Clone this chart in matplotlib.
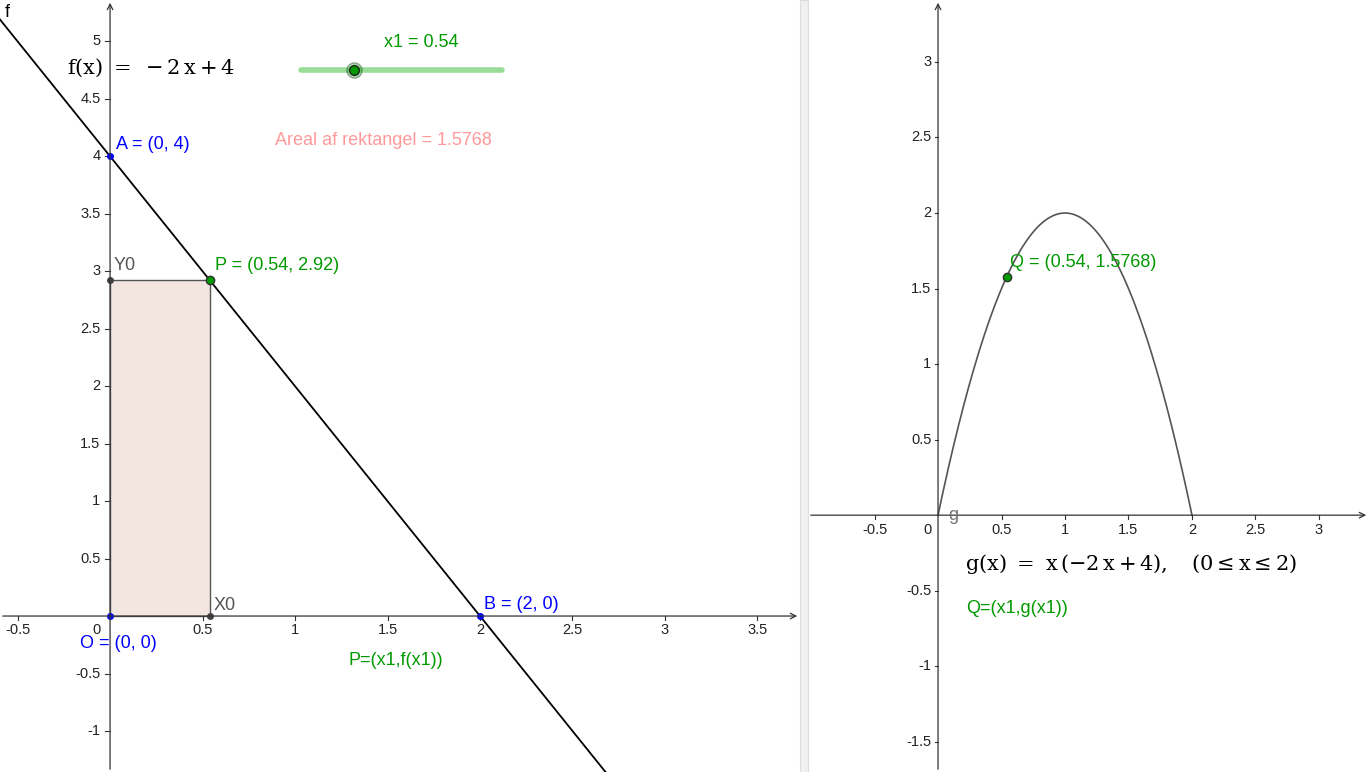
import numpy as np
import matplotlib
matplotlib.use("Agg")
import matplotlib.pyplot as plt

# data
x1 = 0.54
f_slope, f_icpt = -2, 4
A = (0, 4)
B = (2, 0)
O = (0, 0)
P = (x1, f_slope * x1 + f_icpt)
Q = (x1, x1 * (f_slope * x1 + f_icpt))
left_xticks = [-0.5, 0.5, 1, 1.5, 2, 2.5, 3, 3.5]
left_yticks = [-1, -0.5, 0.5, 1, 1.5, 2, 2.5, 3, 3.5, 4, 4.5, 5]
right_xticks = [-0.5, 0.5, 1, 1.5, 2, 2.5, 3]
right_yticks = [-1.5, -1, -0.5, 0.5, 1, 1.5, 2, 2.5, 3]

W, H = 1369, 772
plt.rcParams["font.family"] = ["Liberation Sans", "DejaVu Sans"]
plt.rcParams["mathtext.fontset"] = "dejavuserif"
fig = plt.figure(figsize=(W / 100, H / 100), dpi=100)
GREEN = "#009900"
BLUE = "#0000ff"
TICK = dict(fontsize=10.5, color="#222222")


def setup(ax, xlim, ylim, xt, yt):
    ax.set_xlim(*xlim)
    ax.set_ylim(*ylim)
    ax.axis("off")
    ax.annotate("", xy=(xlim[1], 0), xytext=(xlim[0], 0),
                arrowprops=dict(arrowstyle="->", color="#333333", lw=0.9))
    ax.annotate("", xy=(0, ylim[1]), xytext=(0, ylim[0]),
                arrowprops=dict(arrowstyle="->", color="#333333", lw=0.9))
    dx = (xlim[1] - xlim[0]) * 0.004
    dy = (ylim[1] - ylim[0]) * 0.008
    for t in xt:
        ax.plot([t, t], [0, -dy * 0.6], color="#333333", lw=0.8)
        ax.text(t, -dy * 1.2, f"{t:g}", ha="center", va="top", **TICK)
    for t in yt:
        ax.plot([0, -dx * 1.5], [t, t], color="#333333", lw=0.8)
        ax.text(-dx * 3, t, f"{t:g}", ha="right", va="center", **TICK)
    ax.text(-dx * 3, -dy * 1.2, "0", ha="right", va="top", **TICK)


# left panel
ax = fig.add_axes([0, 0, 800 / W, 1])
setup(ax, (-0.595, 3.73), (-1.357, 5.36), left_xticks, left_yticks)
xs = np.linspace(-0.7, 3.0, 50)
ax.plot(xs, f_slope * xs + f_icpt, color="black", lw=1.3)
ax.add_patch(plt.Rectangle((0, 0), P[0], P[1], facecolor="#f3e6e1",
                           edgecolor="#555555", lw=1))
for pt, c in [(A, BLUE), (B, BLUE), (O, BLUE)]:
    ax.plot(*pt, "o", color=c, ms=4)
ax.plot(P[0], 0, "o", color="#444444", ms=4)
ax.plot(0, P[1], "o", color="#444444", ms=4)
ax.plot(*P, "o", color=GREEN, mec="#333333", ms=6)
ax.text(0.03, 4.03, "A = (0, 4)", color=BLUE, fontsize=13, va="bottom")
ax.text(2.02, 0.03, "B = (2, 0)", color=BLUE, fontsize=13, va="bottom")
ax.text(-0.16, -0.235, "O = (0, 0)", color=BLUE, fontsize=13, va="center")
ax.text(0.57, 2.98, f"P = ({P[0]:.2f}, {P[1]:.2f})", color=GREEN, fontsize=13, va="bottom")
ax.text(0.02, 2.98, "Y0", color="#555555", fontsize=13, va="bottom")
ax.text(0.56, 0.02, "X0", color="#555555", fontsize=13, va="bottom")
ax.text(1.29, -0.39, "P=(x1,f(x1))", color=GREEN, fontsize=13, va="center")
ax.text(-0.57, 5.25, "f", fontsize=13, va="center")
ax.text(-0.235, 4.77, r"$\mathrm{f(x)\ =\ -2\,x + 4}$", fontsize=15, va="center")
ax.text(0.89, 4.14, f"Areal af rektangel = {P[0] * P[1]:.4f}", color="#ff9999",
        fontsize=13, va="center")
ax.plot([1.03, 2.12], [4.75, 4.75], color="#99dd99", lw=4, solid_capstyle="round")
ax.plot(1.32, 4.75, "o", color=GREEN, mec="#222222", ms=11, alpha=0.35)
ax.plot(1.32, 4.75, "o", color=GREEN, mec="#222222", ms=7)
ax.text(1.68, 4.99, f"x1 = {x1}", color=GREEN, fontsize=13, ha="center", va="center")

# divider
fig.add_artist(plt.Rectangle((800 / W, 0), 8 / W, 1, transform=fig.transFigure,
                             facecolor="#f0f0f0", edgecolor="#dddddd", lw=0.8))

# right panel
ax2 = fig.add_axes([808 / W, 0, 561 / W, 1])
setup(ax2, (-1.024, 3.394), (-1.70, 3.41), right_xticks, right_yticks)
gx = np.linspace(0, 2, 200)
ax2.plot(gx, gx * (f_slope * gx + f_icpt), color="#555555", lw=1.2)
ax2.plot(*Q, "o", color=GREEN, mec="#333333", ms=6)
ax2.text(0.57, 1.67, f"Q = ({Q[0]:.2f}, {Q[1]:.4f})", color=GREEN, fontsize=13, va="center")
ax2.text(0.08, -0.0, "g", color="#777777", fontsize=13, va="center")
ax2.text(0.21, -0.32, r"$\mathrm{g(x)\ =\ x\,(-2\,x + 4),\quad (0 \leq x \leq 2)}$",
         fontsize=15, va="center")
ax2.text(0.22, -0.62, "Q=(x1,g(x1))", color=GREEN, fontsize=13, va="center")

fig.savefig("out.png", dpi=100)
